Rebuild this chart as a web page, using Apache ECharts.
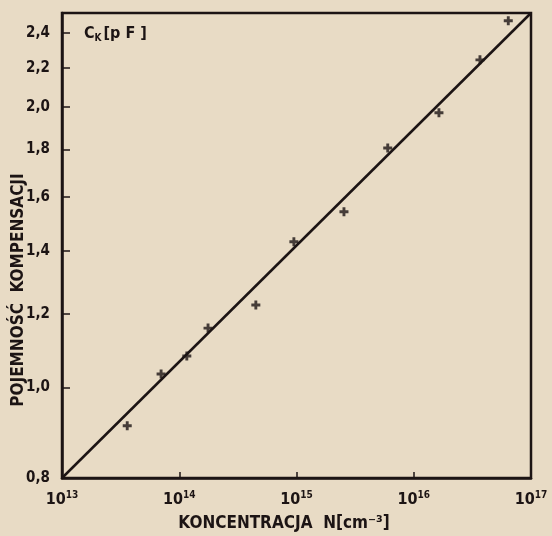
<!DOCTYPE html>
<html><head><meta charset="utf-8">
<script src="https://cdn.jsdelivr.net/npm/echarts@6/dist/echarts.min.js"></script>
<style>html,body{margin:0;padding:0;background:#e8dbc5;}#c{width:552px;height:536px;}</style>
</head><body><div id="c"></div>
<script>
// Data (log–log plot)
const concentrations = [3.6e13, 7.0e13, 1.16e14, 1.76e14, 4.5e14, 9.5e14, 2.54e15, 6.0e15, 1.64e16, 3.67e16, 6.4e16];
const capacitance   = [0.91, 1.034, 1.081, 1.158, 1.226, 1.433, 1.543, 1.806, 1.970, 2.245, 2.472];
const fitLineX = [1e13, 1e17];
const fitLineY = [0.8, 2.52];
const yTickValues = [0.8, 1.0, 1.2, 1.4, 1.6, 1.8, 2.0, 2.2, 2.4];
const xTickValues = [1e13, 1e14, 1e15, 1e16, 1e17];
const xTitle = 'KONCENTRACJA  N[cm⁻³]';
const yTitle = 'POJEMNOŚĆ  KOMPENSACJI';

const ink = '#1c1414';
const font = '"DejaVu Sans Condensed","Liberation Sans Narrow",sans-serif';
const plus = 'path://M3.4,0H6.6V3.4H10V6.6H6.6V10H3.4V6.6H0V3.4H3.4Z';

const chart = echarts.init(document.getElementById('c'));
chart.setOption({
  backgroundColor: '#e8dbc5',
  animation: false,
  grid: {left: 62, right: 21, top: 13, bottom: 58, outerBoundsMode: 'none', containLabel: false, show: true, borderColor: ink, borderWidth: 2.5, backgroundColor: 'transparent'},
  xAxis: {
    type: 'log', logBase: 10, min: 1e13, max: 1e17,
    axisLine: {show: true, lineStyle: {color: ink, width: 2.5}},
    axisTick: {show: true, inside: true, length: 6, lineStyle: {color: ink, width: 1.5}, customValues: xTickValues},
    splitLine: {show: false},
    axisLabel: {
      customValues: xTickValues, margin: 12, color: ink,
      formatter: v => '{b|10}{s|' + Math.round(Math.log10(v)) + '}',
      rich: {b: {fontSize: 16, fontFamily: font, fontWeight: 'bold', color: ink}, s: {fontSize: 10, fontFamily: font, fontWeight: 'bold', color: ink, padding: [0, 0, 9, 0]}}
    }
  },
  yAxis: {
    type: 'log', logBase: 10, min: 0.8, max: 2.52,
    axisLine: {show: true, lineStyle: {color: ink, width: 2.5}},
    axisTick: {show: true, inside: true, length: 8, lineStyle: {color: ink, width: 1.5}, customValues: yTickValues},
    splitLine: {show: false},
    axisLabel: {
      customValues: yTickValues, margin: 12, color: ink, fontSize: 15, fontFamily: font, fontWeight: 'bold',
      formatter: v => (Math.round(v * 10) / 10).toFixed(1).replace('.', ',')
    }
  },
  graphic: [{
    type: 'text', left: 84, top: 26,
    style: {text: '{c|C}{k|K}{c|[p F ]}', rich: {
      c: {fontSize: 16, fontFamily: font, fontWeight: 'bold', fill: ink},
      k: {fontSize: 10, fontFamily: font, fontWeight: 'bold', fill: ink, padding: [9, 2, 0, 0]}
    }}
  }, {
    type: 'text', x: 284, y: 524,
    style: {text: xTitle, fontSize: 17, fontFamily: font, fontWeight: 'bold', fill: ink, align: 'center', verticalAlign: 'middle'}
  }, {
    type: 'text', x: 19, y: 290, rotation: Math.PI / 2,
    style: {text: yTitle, fontSize: 17, fontFamily: font, fontWeight: 'bold', fill: ink, align: 'center', verticalAlign: 'middle'}
  }],
  series: [
    {type: 'line', data: fitLineX.map((x, i) => [x, fitLineY[i]]), symbol: 'none', lineStyle: {color: ink, width: 2.5}, z: 3},
    {type: 'scatter', data: concentrations.map((x, i) => [x, capacitance[i]]), symbol: plus, symbolSize: 9, itemStyle: {color: ink}, z: 4}
  ]
});
</script></body></html>
